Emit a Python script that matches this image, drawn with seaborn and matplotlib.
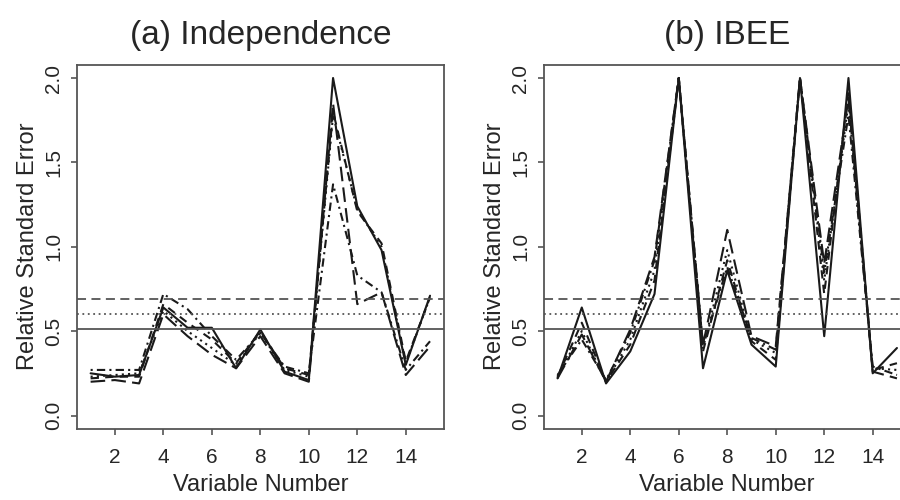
import numpy as np
import pandas as pd
import seaborn as sns
import matplotlib.pyplot as plt

variables = list(range(1, 16))
methods = ["solid", "dashed", "dotted", "dotdash", "longdash"]

# (a) Independence
indep_solid    = [0.25, 0.23, 0.24, 0.64, 0.52, 0.52, 0.28, 0.51, 0.26, 0.21, 2.00, 1.24, 0.98, 0.30, 0.71]
indep_dashed   = [0.22, 0.23, 0.23, 0.66, 0.55, 0.45, 0.31, 0.50, 0.28, 0.24, 1.80, 1.21, 1.02, 0.32, 0.70]
indep_dotted   = [0.23, 0.24, 0.25, 0.62, 0.50, 0.40, 0.30, 0.49, 0.27, 0.23, 1.78, 1.22, 1.00, 0.31, 0.70]
indep_dotdash  = [0.27, 0.27, 0.27, 0.72, 0.63, 0.47, 0.33, 0.49, 0.29, 0.25, 1.37, 0.83, 0.73, 0.27, 0.44]
indep_longdash = [0.20, 0.21, 0.19, 0.60, 0.47, 0.36, 0.28, 0.47, 0.25, 0.20, 1.85, 0.66, 0.73, 0.24, 0.41]

# (b) IBEE
ibee_solid    = [0.22, 0.64, 0.19, 0.38, 0.72, 2.00, 0.28, 0.86, 0.42, 0.29, 2.00, 0.47, 2.00, 0.25, 0.40]
ibee_dashed   = [0.23, 0.55, 0.20, 0.42, 0.80, 2.00, 0.38, 0.92, 0.44, 0.33, 2.00, 0.72, 1.92, 0.27, 0.31]
ibee_dotted   = [0.23, 0.50, 0.20, 0.45, 0.86, 2.00, 0.40, 0.98, 0.45, 0.37, 2.00, 0.80, 1.85, 0.28, 0.27]
ibee_dotdash  = [0.24, 0.45, 0.21, 0.49, 0.92, 2.00, 0.41, 0.88, 0.46, 0.39, 2.00, 0.85, 1.78, 0.29, 0.24]
ibee_longdash = [0.22, 0.48, 0.20, 0.51, 0.94, 2.00, 0.42, 1.10, 0.47, 0.41, 2.00, 0.90, 1.88, 0.26, 0.22]

ref_solid = 0.51
ref_dotted = 0.60
ref_dashed = 0.69

dash_map = {"solid": "", "dashed": (4, 3), "dotted": (1, 2), "dotdash": (1, 2, 4, 2), "longdash": (7, 3)}


def long_df(cols):
    rows = []
    for m, vals in zip(methods, cols):
        for v, r in zip(variables, vals):
            rows.append({"variable": v, "rse": r, "method": m})
    return pd.DataFrame(rows)


df_a = long_df([indep_solid, indep_dashed, indep_dotted, indep_dotdash, indep_longdash])
df_b = long_df([ibee_solid, ibee_dashed, ibee_dotted, ibee_dotdash, ibee_longdash])

sns.set_theme(style="ticks")
plt.rcParams["font.family"] = ["Liberation Sans"]

fig = plt.figure(figsize=(9, 5), dpi=100)
ax1 = fig.add_axes([0.0856, 0.142, 0.4073, 0.729])
ax2 = fig.add_axes([0.6044, 0.142, 0.4073, 0.729])

for ax, df, title in [(ax1, df_a, "(a) Independence"), (ax2, df_b, "(b) IBEE")]:
    sns.lineplot(data=df, x="variable", y="rse", style="method", dashes=dash_map,
                 color="#1a1a1a", lw=1.5, legend=False, ax=ax)
    ax.axhline(ref_solid, color="#555555", lw=1.3, ls="-")
    ax.axhline(ref_dotted, color="#555555", lw=1.3, ls=(0, (1, 2)))
    ax.axhline(ref_dashed, color="#555555", lw=1.3, ls=(0, (5, 3)))
    ax.set_xlim(0.44, 15.56)
    ax.set_ylim(-0.08, 2.08)
    ax.set_xticks([2, 4, 6, 8, 10, 12, 14])
    ax.set_yticks([0, 0.5, 1.0, 1.5, 2.0])
    ax.set_yticklabels(["0.0", "0.5", "1.0", "1.5", "2.0"], rotation=90, va="center")
    ax.tick_params(axis="both", labelsize=15, length=4, width=1.2, color="#555555")
    ax.tick_params(axis="x", pad=10)
    ax.tick_params(axis="y", pad=6)
    for s in ax.spines.values():
        s.set_color("#555555")
        s.set_linewidth(1.3)
    ax.set_xlabel("Variable Number", fontsize=17, labelpad=5)
    ax.set_ylabel("Relative Standard Error", fontsize=17, labelpad=4)
    ax.set_title(title, fontsize=24, pad=15)

fig.savefig("out.png", dpi=100)
